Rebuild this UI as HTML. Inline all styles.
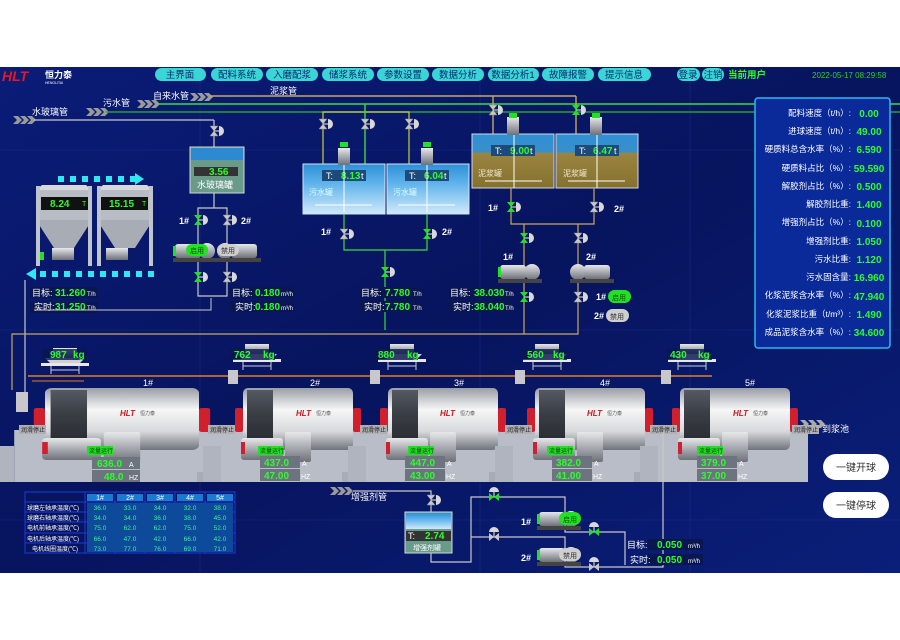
<!DOCTYPE html>
<html><head><meta charset="utf-8"><style>
html,body{margin:0;padding:0;background:#fff;width:900px;height:640px;overflow:hidden}
svg{display:block}
text{font-family:"Liberation Sans","Noto Sans CJK SC",sans-serif}
.w{fill:#fff;font-size:9px}
.g{fill:#2aff2a;font-size:10px;font-weight:bold}
.nv{fill:#0b2a6e;font-size:9.5px;text-anchor:middle}
.pl{fill:#fff;font-size:8.5px;text-anchor:end}
.pv{fill:#2aff2a;font-size:10px;font-weight:bold;text-anchor:middle}
.s{fill:#fff;font-size:6px}
.tb{fill:#fff;font-size:6px}
.tv{fill:#3cf0a0;font-size:6.5px;text-anchor:middle}
</style></head><body>
<svg width="900" height="640" viewBox="0 0 900 640" xmlns="http://www.w3.org/2000/svg">
<defs>
<linearGradient id="bg" x1="0" y1="0" x2="1" y2="1">
<stop offset="0" stop-color="#0a1c78"/><stop offset="0.5" stop-color="#07145e"/><stop offset="1" stop-color="#0a1f7a"/></linearGradient>
<linearGradient id="cyl" x1="0" y1="0" x2="0" y2="1">
<stop offset="0" stop-color="#9a9ea6"/><stop offset="0.35" stop-color="#f6f6f6"/><stop offset="0.7" stop-color="#d8d9dc"/><stop offset="1" stop-color="#6f737b"/></linearGradient>
<linearGradient id="band" x1="0" y1="0" x2="0" y2="1">
<stop offset="0" stop-color="#555a62"/><stop offset="0.4" stop-color="#3a3e45"/><stop offset="1" stop-color="#25282d"/></linearGradient>
<linearGradient id="met" x1="0" y1="0" x2="0" y2="1">
<stop offset="0" stop-color="#e8e8ea"/><stop offset="0.5" stop-color="#a9acb2"/><stop offset="1" stop-color="#6e7178"/></linearGradient>
<linearGradient id="water" x1="0" y1="0" x2="0" y2="1">
<stop offset="0" stop-color="#2e8fd6"/><stop offset="0.35" stop-color="#5ab0ea"/><stop offset="1" stop-color="#cfe9fb"/></linearGradient>
<linearGradient id="mud" x1="0" y1="0" x2="0" y2="1">
<stop offset="0" stop-color="#2f8fd6"/><stop offset="0.33" stop-color="#3a8fc8"/><stop offset="0.36" stop-color="#9a8440"/><stop offset="1" stop-color="#85712e"/></linearGradient>
<g id="valve">
<path d="M-4,-5 L4,-5 L-4,5 L4,5 Z" fill="#c8c8c8" stroke="#888" stroke-width="0.5"/>
<line x1="0" y1="0" x2="5" y2="0" stroke="#ccc" stroke-width="1.2"/>
<path d="M5,-5 A5,5 0 0 1 5,5 Z" fill="#d8d8d8"/>
</g>
<g id="valveg">
<path d="M-4,-5 L4,-5 L-4,5 L4,5 Z" fill="#22e022"/>
<line x1="0" y1="0" x2="5" y2="0" stroke="#ccc" stroke-width="1.2"/>
<path d="M5,-5 A5,5 0 0 1 5,5 Z" fill="#d8d8d8"/>
</g>
<g id="valveh">
<path d="M-5,-4 L-5,4 L5,-4 L5,4 Z" fill="#c8c8c8"/>
<line x1="0" y1="0" x2="0" y2="-5" stroke="#ccc" stroke-width="1.2"/>
<path d="M-5,-5 A5,5 0 0 1 5,-5 Z" fill="#d8d8d8"/>
</g>
<g id="valvehg">
<path d="M-5,-4 L-5,4 L5,-4 L5,4 Z" fill="#22e022"/>
<line x1="0" y1="0" x2="0" y2="-5" stroke="#ccc" stroke-width="1.2"/>
<path d="M-5,-5 A5,5 0 0 1 5,-5 Z" fill="#d8d8d8"/>
</g>
<g id="pump">
<rect x="0" y="2" width="26" height="14" rx="3" fill="url(#met)"/>
<rect x="-2" y="4" width="3" height="10" fill="#22e022"/>
<circle cx="32" cy="9" r="8" fill="url(#met)"/>
<rect x="-2" y="16" width="44" height="4" fill="#444"/>
</g>
<g id="pumpr">
<circle cx="8" cy="9" r="8" fill="url(#met)"/>
<rect x="14" y="2" width="26" height="14" rx="3" fill="url(#met)"/>
<rect x="0" y="16" width="44" height="4" fill="#444"/>
</g>
<g id="chev">
<path d="M0,0 h5 l4,4 l-4,4 h-5 l4,-4 Z M7,0 h5 l4,4 l-4,4 h-5 l4,-4 Z M14,0 h5 l4,4 l-4,4 h-5 l4,-4 Z" fill="#9a9a9a"/>
</g>
<g id="hopper">
<rect x="8" y="0" width="24" height="10" fill="url(#met)"/>
<path d="M0,10 h40 l-6,6 h-28 Z" fill="#d0d0d4"/>
<rect x="-4" y="15" width="48" height="3" fill="#e8e8ea"/>
<path d="M6,18 v8 M34,18 v8 M6,22 h28" stroke="#ccc" stroke-width="1"/>
</g>
<g id="mill">
<path d="M-22,42 h150 v52 h-150 Z" fill="#b9bdc8"/>
<path d="M-40,94 v-36 h18 v36 Z" fill="#b0b4bf"/>
<path d="M-40,94 v-10 h-6 v10 Z" fill="#a8acb7"/>
<rect x="0" y="0" width="110" height="62" rx="5" fill="url(#cyl)"/>
<rect x="4" y="2" width="26" height="58" fill="url(#band)"/>
<rect x="-8" y="20" width="8" height="24" rx="2" fill="#d21f2e"/>
<rect x="110" y="20" width="8" height="24" rx="2" fill="#d21f2e"/>
<rect x="-2" y="50" width="42" height="22" rx="3" fill="url(#met)"/>
<rect x="-2" y="54" width="4" height="12" fill="#d21f2e"/>
<rect x="42" y="44" width="26" height="30" rx="2" fill="url(#met)"/>
</g>
</defs>

<rect x="0" y="67" width="900" height="506" fill="url(#bg)"/>
<g stroke="#1c3a9a" stroke-width="0.6" opacity="0.6">
<line x1="0" y1="150" x2="900" y2="150"/><line x1="0" y1="330" x2="900" y2="330"/><line x1="0" y1="520" x2="900" y2="520"/>
<line x1="200" y1="67" x2="200" y2="573"/><line x1="480" y1="67" x2="480" y2="573"/><line x1="690" y1="67" x2="690" y2="573"/>
</g>

<text x="2" y="81" fill="#e8181e" font-size="14" font-weight="bold" font-style="italic">HLT</text>
<text x="45" y="78" fill="#fff" font-size="9" font-weight="bold">恒力泰</text>
<text x="45" y="84" fill="#fff" font-size="3.5">HENGLITAI</text>
<g fill="#3ad6d6">
<rect x="155" y="68" width="51" height="13" rx="6.5"/><rect x="211" y="68" width="52" height="13" rx="6.5"/>
<rect x="266" y="68" width="52" height="13" rx="6.5"/><rect x="322" y="68" width="52" height="13" rx="6.5"/>
<rect x="377" y="68" width="52" height="13" rx="6.5"/><rect x="432" y="68" width="52" height="13" rx="6.5"/>
<rect x="488" y="68" width="51" height="13" rx="6.5"/><rect x="542" y="68" width="52" height="13" rx="6.5"/>
<rect x="598" y="68" width="53" height="13" rx="6.5"/><rect x="677" y="68" width="23" height="13" rx="6.5"/>
<rect x="702" y="68" width="22" height="13" rx="6.5"/>
</g>
<text class="nv" x="180" y="78">主界面</text><text class="nv" x="237" y="78">配料系统</text>
<text class="nv" x="292" y="78">入磨配浆</text><text class="nv" x="348" y="78">储浆系统</text>
<text class="nv" x="403" y="78">参数设置</text><text class="nv" x="458" y="78">数据分析</text>
<text class="nv" x="513" y="78">数据分析1</text><text class="nv" x="568" y="78">故障报警</text>
<text class="nv" x="624" y="78">提示信息</text><text class="nv" x="688" y="78">登录</text><text class="nv" x="713" y="78">注销</text>
<text x="728" y="78" fill="#2aff2a" font-size="9.5" font-weight="bold">当前用户</text>
<text x="812" y="78" fill="#2ad02a" font-size="8">2022-05-17  08:29:58</text>

<use href="#chev" x="13" y="116"/><text class="w" x="32" y="115">水玻璃管</text>
<use href="#chev" x="86" y="108"/><text class="w" x="103" y="106">污水管</text>
<use href="#chev" x="137" y="100"/><text class="w" x="153" y="99">自来水管</text>
<use href="#chev" x="190" y="93"/><text class="w" x="270" y="94">泥浆管</text>
<line x1="34" y1="120" x2="214" y2="120" stroke="#c8c8c8" stroke-width="1.2"/>
<line x1="214" y1="120" x2="214" y2="148" stroke="#c8c8c8" stroke-width="1.2"/>
<line x1="106" y1="112" x2="900" y2="112" stroke="#2aa02a" stroke-width="1.4"/>
<line x1="157" y1="104" x2="900" y2="104" stroke="#3cdc3c" stroke-width="1.4"/>
<line x1="210" y1="96" x2="576" y2="96" stroke="#c8a860" stroke-width="1.4"/>
<polyline points="323,164 323,112 409,112 409,164" fill="none" stroke="#c8d040" stroke-width="1.2"/>
<line x1="365" y1="104" x2="365" y2="170" stroke="#3cdc3c" stroke-width="1.4"/>
<line x1="493" y1="96" x2="493" y2="134" stroke="#c8a860" stroke-width="1.4"/>
<line x1="576" y1="96" x2="576" y2="134" stroke="#c8a860" stroke-width="1.4"/>
<use href="#valve" x="214" y="131"/><use href="#valve" x="323" y="124"/><use href="#valve" x="365" y="124"/>
<use href="#valve" x="409" y="124"/><use href="#valve" x="493" y="110"/><use href="#valveg" x="576" y="110"/>

<g>
<rect x="36" y="190" width="56" height="30" fill="#b8bcc4"/><rect x="97" y="190" width="56" height="30" fill="#b8bcc4"/>
<path d="M36,190 l6,-5 h44 l6,5 Z M97,190 l6,-5 h44 l6,5 Z" fill="#d8d8dc"/>
<path d="M36,220 h56 l-18,28 h-20 Z M97,220 h56 l-18,28 h-20 Z" fill="#a8acb4"/>
<rect x="36" y="186" width="4" height="80" fill="#c0c4cc"/><rect x="88" y="186" width="4" height="80" fill="#c0c4cc"/>
<rect x="97" y="186" width="4" height="80" fill="#c0c4cc"/><rect x="149" y="186" width="4" height="80" fill="#c0c4cc"/>
<rect x="52" y="248" width="22" height="12" fill="url(#met)"/><rect x="106" y="248" width="22" height="12" fill="url(#met)"/>
<rect x="40" y="252" width="4" height="8" fill="#22e022"/>
<rect x="41" y="197" width="47" height="13" fill="#111"/><rect x="101" y="197" width="47" height="13" fill="#111"/>
<text x="50" y="207" class="g">8.24</text><text x="82" y="206" fill="#2aff2a" font-size="7">T</text>
<text x="109" y="207" class="g">15.15</text><text x="142" y="206" fill="#2aff2a" font-size="7">T</text>
</g>
<g fill="#2ee8f0">
<rect x="58" y="176" width="6" height="6"/><rect x="70" y="176" width="6" height="6"/><rect x="82" y="176" width="6" height="6"/><rect x="94" y="176" width="6" height="6"/><rect x="106" y="176" width="6" height="6"/><rect x="118" y="176" width="6" height="6"/><rect x="130" y="176" width="6" height="6"/>
<path d="M135,173 l9,6 l-9,6 Z"/>
<path d="M26,274 l10,-6 v12 Z"/>
<rect x="40" y="271" width="6" height="6"/><rect x="52" y="271" width="6" height="6"/><rect x="64" y="271" width="6" height="6"/><rect x="76" y="271" width="6" height="6"/><rect x="88" y="271" width="6" height="6"/><rect x="100" y="271" width="6" height="6"/><rect x="112" y="271" width="6" height="6"/><rect x="124" y="271" width="6" height="6"/><rect x="136" y="271" width="6" height="6"/><rect x="148" y="271" width="6" height="6"/>
</g>
<rect x="30" y="287" width="68" height="11" fill="#0a1650"/><rect x="30" y="302" width="68" height="11" fill="#0a1650"/>
<text class="w" x="32" y="296">目标:</text><text class="g" x="55" y="296">31.260</text><text x="87" y="296" fill="#fff" font-size="6">T/h</text>
<text class="w" x="34" y="310">实时:</text><text class="g" x="55" y="310">31.250</text><text x="87" y="310" fill="#fff" font-size="6">T/h</text>
<polyline points="25,280 25,395" fill="none" stroke="#c8c8c8" stroke-width="1.2"/>
<polyline points="34,310 211,310 211,298" fill="none" stroke="#c8c8c8" stroke-width="1"/>

<rect x="190" y="147" width="54" height="46" fill="#6a9a8a" stroke="#cfd8d8" stroke-width="1"/>
<rect x="191" y="148" width="52" height="12" fill="#2e8ad0"/>
<rect x="194" y="167" width="44" height="9" fill="#333"/>
<text class="g" x="209" y="175" font-size="8">3.56</text>
<text class="w" x="197" y="188">水玻璃罐</text>
<polyline points="214,193 214,208 198,208 198,296 227,296 227,208 214,208" fill="none" stroke="#c8c8c8" stroke-width="1.2"/>
<use href="#valveg" x="198" y="220"/><use href="#valve" x="227" y="220"/>
<use href="#valveg" x="198" y="277"/><use href="#valve" x="227" y="277"/>
<text class="w" x="179" y="224" font-weight="bold">1#</text><text class="w" x="241" y="224" font-weight="bold">2#</text>
<use href="#pump" x="175" y="242"/><use href="#pumpr" x="217" y="242"/>
<rect x="186" y="244" width="22" height="12" rx="6" fill="#22e022"/><text x="190" y="253" fill="#0a4a0a" font-size="7">启用</text>
<rect x="217" y="244" width="22" height="12" rx="6" fill="#cfcfcf"/><text x="221" y="253" fill="#333" font-size="7">禁用</text>
<rect x="230" y="287" width="64" height="11" fill="#0a1650"/><rect x="230" y="301" width="64" height="11" fill="#0a1650"/>
<text class="w" x="232" y="296">目标:</text><text class="g" x="255" y="296">0.180</text><text x="281" y="296" fill="#fff" font-size="6">m³/h</text>
<text class="w" x="235" y="310">实时:</text><text class="g" x="255" y="310">0.180</text><text x="281" y="310" fill="#fff" font-size="6">m³/h</text>

<rect x="303" y="164" width="82" height="50" fill="url(#water)" stroke="#d0e4f4"/>
<rect x="387" y="164" width="82" height="50" fill="url(#water)" stroke="#d0e4f4"/>
<rect x="338" y="148" width="12" height="17" fill="url(#met)"/><rect x="340" y="142" width="8" height="5" fill="#22e022"/>
<rect x="421" y="148" width="12" height="17" fill="url(#met)"/><rect x="423" y="142" width="8" height="5" fill="#22e022"/>
<rect x="322" y="170" width="44" height="11" fill="#1e4a7a"/><rect x="405" y="170" width="44" height="11" fill="#1e4a7a"/>
<text class="w" x="326" y="179">T:</text><text class="g" x="341" y="179" font-size="8.5">8.13</text><text class="w" x="361" y="179">t</text>
<text class="w" x="409" y="179">T:</text><text class="g" x="424" y="179" font-size="8.5">6.04</text><text class="w" x="444" y="179">t</text>
<text x="309" y="195" fill="#dff" font-size="8">污水罐</text><text x="393" y="195" fill="#dff" font-size="8">污水罐</text>
<line x1="315" y1="205" x2="372" y2="205" stroke="#fff"/><line x1="398" y1="205" x2="455" y2="205" stroke="#fff"/>
<line x1="344" y1="165" x2="344" y2="212" stroke="#fff"/><line x1="427" y1="165" x2="427" y2="212" stroke="#fff"/>
<polyline points="344,214 344,250 427,250 427,214" fill="none" stroke="#3cdc3c" stroke-width="1.2"/>
<line x1="385" y1="250" x2="385" y2="330" stroke="#3cdc3c" stroke-width="1.2"/>
<use href="#valve" x="344" y="234"/><use href="#valveg" x="427" y="234"/><use href="#valveg" x="385" y="272"/>
<text class="w" x="321" y="235" font-weight="bold">1#</text><text class="w" x="442" y="235" font-weight="bold">2#</text>
<rect x="360" y="287" width="62" height="11" fill="#0a1650"/><rect x="360" y="301" width="62" height="11" fill="#0a1650"/>
<text class="w" x="361" y="296">目标:</text><text class="g" x="385" y="296">7.780</text><text x="413" y="296" fill="#fff" font-size="6">T/h</text>
<text class="w" x="364" y="310">实时:</text><text class="g" x="385" y="310">7.780</text><text x="413" y="310" fill="#fff" font-size="6">T/h</text>

<rect x="472" y="134" width="82" height="54" fill="url(#mud)" stroke="#d0d8e0"/>
<rect x="556" y="134" width="82" height="54" fill="url(#mud)" stroke="#d0d8e0"/>
<rect x="507" y="117" width="12" height="18" fill="url(#met)"/><rect x="509" y="113" width="8" height="5" fill="#22e022"/>
<rect x="590" y="117" width="12" height="18" fill="url(#met)"/><rect x="592" y="113" width="8" height="5" fill="#22e022"/>
<rect x="491" y="145" width="44" height="11" fill="#1e4a7a"/><rect x="575" y="145" width="44" height="11" fill="#1e4a7a"/>
<text class="w" x="495" y="154">T:</text><text class="g" x="510" y="154" font-size="8.5">9.00</text><text class="w" x="530" y="154">t</text>
<text class="w" x="579" y="154">T:</text><text class="g" x="593" y="154" font-size="8.5">6.47</text><text class="w" x="614" y="154">t</text>
<text x="478" y="176" fill="#f0e8d0" font-size="8">泥浆罐</text><text x="563" y="176" fill="#f0e8d0" font-size="8">泥浆罐</text>
<line x1="485" y1="181" x2="542" y2="181" stroke="#fff"/><line x1="568" y1="181" x2="625" y2="181" stroke="#fff"/>
<line x1="514" y1="135" x2="514" y2="188" stroke="#fff"/><line x1="597" y1="135" x2="597" y2="188" stroke="#fff"/>
<polyline points="511,188 511,224 594,224 594,188" fill="none" stroke="#c8a860" stroke-width="1.2"/>
<polyline points="524,224 524,334 12,334 12,390" fill="none" stroke="#c8a860" stroke-width="1.2"/>
<polyline points="578,224 578,334 524,334" fill="none" stroke="#c8a860" stroke-width="1.2"/>
<use href="#valveg" x="511" y="207"/><use href="#valve" x="594" y="207"/>
<text class="w" x="488" y="211" font-weight="bold">1#</text><text class="w" x="614" y="212" font-weight="bold">2#</text>
<use href="#valveg" x="524" y="238"/><use href="#valve" x="578" y="238"/>
<use href="#valveg" x="524" y="297"/><use href="#valve" x="578" y="297"/>
<text class="w" x="503" y="260" font-weight="bold">1#</text><text class="w" x="586" y="260" font-weight="bold">2#</text>
<use href="#pump" x="500" y="263"/><use href="#pumpr" x="570" y="263"/>
<rect x="450" y="287" width="62" height="11" fill="#0a1650"/><rect x="450" y="301" width="62" height="11" fill="#0a1650"/>
<text class="w" x="450" y="296">目标:</text><text class="g" x="474" y="296">38.030</text><text x="505" y="296" fill="#fff" font-size="6">T/h</text>
<text class="w" x="453" y="310">实时:</text><text class="g" x="474" y="310">38.040</text><text x="505" y="310" fill="#fff" font-size="6">T/h</text>
<text class="w" x="596" y="300" font-weight="bold">1#</text>
<rect x="608" y="290" width="23" height="13" rx="6.5" fill="#22e022"/><text x="612" y="300" fill="#0a4a0a" font-size="7">启用</text>
<text class="w" x="594" y="319" font-weight="bold">2#</text>
<rect x="606" y="309" width="23" height="13" rx="6.5" fill="#cfcfcf"/><text x="610" y="319" fill="#333" font-size="7">禁用</text>

<rect x="755" y="98" width="135" height="250" rx="3" fill="#0a2a9a" stroke="#2ab8f0" stroke-width="1.5"/>
<text class="pl" x="851" y="116">配料速度（t/h）:</text><text class="pv" x="869" y="117">0.00</text>
<text class="pl" x="851" y="134">进球速度（t/h）:</text><text class="pv" x="869" y="135">49.00</text>
<text class="pl" x="851" y="152">硬质料总含水率（%）:</text><text class="pv" x="869" y="153">6.590</text>
<text class="pl" x="851" y="171">硬质料占比（%）:</text><text class="pv" x="869" y="172">59.590</text>
<text class="pl" x="851" y="189">解胶剂占比（%）:</text><text class="pv" x="869" y="190">0.500</text>
<text class="pl" x="851" y="207">解胶剂比重:</text><text class="pv" x="869" y="208">1.400</text>
<text class="pl" x="851" y="225">增强剂占比（%）:</text><text class="pv" x="869" y="227">0.100</text>
<text class="pl" x="851" y="244">增强剂比重:</text><text class="pv" x="869" y="245">1.050</text>
<text class="pl" x="851" y="262">污水比重:</text><text class="pv" x="869" y="263">1.120</text>
<text class="pl" x="851" y="280">污水固含量:</text><text class="pv" x="869" y="281">16.960</text>
<text class="pl" x="851" y="298">化浆泥浆含水率（%）:</text><text class="pv" x="869" y="300">47.940</text>
<text class="pl" x="851" y="317">化浆泥浆比重（t/m³）:</text><text class="pv" x="869" y="318">1.490</text>
<text class="pl" x="851" y="335">成品泥浆含水率（%）:</text><text class="pv" x="869" y="336">34.600</text>

<use href="#hopper" x="45" y="348"/><use href="#hopper" x="237" y="344"/><use href="#hopper" x="382" y="344"/><use href="#hopper" x="527" y="344"/><use href="#hopper" x="672" y="344"/>
<rect x="42" y="349" width="45" height="11" fill="#0a1650" opacity="0.8"/><text class="g" x="50" y="358" font-size="8">987</text><text class="g" x="73" y="358" font-size="8">kg</text>
<rect x="230" y="349" width="45" height="11" fill="#0a1650" opacity="0.8"/><text class="g" x="234" y="358" font-size="8">762</text><text class="g" x="263" y="358" font-size="8">kg</text>
<rect x="373" y="349" width="45" height="11" fill="#0a1650" opacity="0.8"/><text class="g" x="378" y="358" font-size="8">880</text><text class="g" x="407" y="358" font-size="8">kg</text>
<rect x="522" y="349" width="45" height="11" fill="#0a1650" opacity="0.8"/><text class="g" x="527" y="358" font-size="8">560</text><text class="g" x="553" y="358" font-size="8">kg</text>
<rect x="667" y="349" width="45" height="11" fill="#0a1650" opacity="0.8"/><text class="g" x="670" y="358" font-size="8">430</text><text class="g" x="698" y="358" font-size="8">kg</text>
<line x1="28" y1="376" x2="712" y2="376" stroke="#e08020" stroke-width="1.5"/>
<line x1="32" y1="381" x2="84" y2="381" stroke="#e08020" stroke-width="1"/>

<use href="#mill" x="45" y="388" transform="translate(45 0) scale(1.4 1) translate(-45 0)"/>
<use href="#mill" x="243" y="388"/><use href="#mill" x="388" y="388"/><use href="#mill" x="535" y="388"/><use href="#mill" x="680" y="388"/>
<g fill="#c8c8cc">
<rect x="16" y="392" width="12" height="20"/><rect x="228" y="370" width="10" height="14"/><rect x="370" y="370" width="10" height="14"/><rect x="515" y="370" width="10" height="14"/><rect x="661" y="370" width="10" height="14"/>
</g>
<path d="M800,420 l4,4 l-4,4 h5 l4,-4 l-4,-4 Z M808,420 l4,4 l-4,4 h5 l4,-4 l-4,-4 Z M816,420 l4,4 l-4,4 h5 l4,-4 l-4,-4 Z" fill="#aaa"/>
<text class="w" x="143" y="386">1#</text><text class="w" x="310" y="386">2#</text><text class="w" x="454" y="386">3#</text><text class="w" x="600" y="386">4#</text><text class="w" x="745" y="386">5#</text>
<g fill="#d2141e" font-size="8" font-weight="bold" font-style="italic">
<text x="120" y="416">HLT</text><text x="296" y="416">HLT</text><text x="440" y="416">HLT</text><text x="587" y="416">HLT</text><text x="733" y="416">HLT</text></g>
<g fill="#555" font-size="5"><text x="140" y="415">恒力泰</text><text x="316" y="415">恒力泰</text><text x="460" y="415">恒力泰</text><text x="607" y="415">恒力泰</text><text x="753" y="415">恒力泰</text></g>
<g fill="#b0b0b4"><rect x="19" y="425" width="27" height="9"/><rect x="208" y="425" width="27" height="9"/><rect x="360" y="425" width="27" height="9"/><rect x="505" y="425" width="27" height="9"/><rect x="650" y="425" width="27" height="9"/><rect x="792" y="425" width="27" height="9"/></g>
<g><text x="21" y="432" fill="#222" font-size="6">润滑停止</text><text x="210" y="432" fill="#222" font-size="6">润滑停止</text><text x="362" y="432" fill="#222" font-size="6">润滑停止</text><text x="507" y="432" fill="#222" font-size="6">润滑停止</text><text x="652" y="432" fill="#222" font-size="6">润滑停止</text><text x="794" y="432" fill="#222" font-size="6">润滑停止</text></g>
<text class="w" x="822" y="432">到浆池</text>
<g fill="#22e022"><rect x="87" y="446" width="26" height="9"/><rect x="258" y="446" width="26" height="9"/><rect x="408" y="446" width="26" height="9"/><rect x="547" y="446" width="26" height="9"/><rect x="697" y="446" width="26" height="9"/></g>
<g fill="#0a3a0a" font-size="6"><text x="89" y="453">流量运行</text><text x="260" y="453">流量运行</text><text x="410" y="453">流量运行</text><text x="549" y="453">流量运行</text><text x="699" y="453">流量运行</text></g>
<g fill="#6e7380">
<rect x="92" y="457" width="48" height="12"/><rect x="92" y="470" width="48" height="12"/>
<rect x="260" y="456" width="40" height="12"/><rect x="260" y="469" width="40" height="12"/>
<rect x="405" y="456" width="40" height="12"/><rect x="405" y="469" width="40" height="12"/>
<rect x="552" y="456" width="40" height="12"/><rect x="552" y="469" width="40" height="12"/>
<rect x="697" y="456" width="40" height="12"/><rect x="697" y="469" width="40" height="12"/></g>
<g class="g" font-size="10"><text x="97" y="467">636.0</text><text x="104" y="480">48.0</text>
<text x="264" y="466">437.0</text><text x="264" y="479">47.00</text>
<text x="410" y="466">447.0</text><text x="410" y="479">43.00</text>
<text x="556" y="466">382.0</text><text x="556" y="479">41.00</text>
<text x="701" y="466">379.0</text><text x="701" y="479">37.00</text></g>
<g fill="#fff" font-size="7"><text x="129" y="467">A</text><text x="129" y="480">HZ</text><text x="302" y="466">A</text><text x="301" y="479">HZ</text><text x="447" y="466">A</text><text x="446" y="479">HZ</text><text x="594" y="466">A</text><text x="593" y="479">HZ</text><text x="739" y="466">A</text><text x="738" y="479">HZ</text></g>

<g stroke="#1a3ae0" stroke-width="1" fill="none">
<rect x="25" y="492" width="210" height="61"/>
<line x1="85" y1="492" x2="85" y2="553"/><line x1="115" y1="492" x2="115" y2="553"/><line x1="145" y1="492" x2="145" y2="553"/><line x1="175" y1="492" x2="175" y2="553"/><line x1="205" y1="492" x2="205" y2="553"/>
<line x1="25" y1="502" x2="235" y2="502"/><line x1="25" y1="512" x2="235" y2="512"/><line x1="25" y1="522" x2="235" y2="522"/><line x1="25" y1="533" x2="235" y2="533"/><line x1="25" y1="543" x2="235" y2="543"/></g>
<g fill="#1a7ad0"><rect x="87" y="494" width="26" height="7"/><rect x="117" y="494" width="26" height="7"/><rect x="147" y="494" width="26" height="7"/><rect x="177" y="494" width="26" height="7"/><rect x="207" y="494" width="26" height="7"/></g>
<g fill="#0d4a9a"><rect x="87" y="503" width="146" height="49"/></g>
<g fill="#fff" font-size="7" text-anchor="middle"><text x="100" y="500">1#</text><text x="130" y="500">2#</text><text x="160" y="500">3#</text><text x="190" y="500">4#</text><text x="220" y="500">5#</text></g>
<g class="tb"><text x="27" y="510">球磨左轴承温度(℃)</text><text x="27" y="520">球磨右轴承温度(℃)</text><text x="27" y="530">电机前轴承温度(℃)</text><text x="27" y="541">电机后轴承温度(℃)</text><text x="32" y="551">电机线圈温度(℃)</text></g>
<g class="tv">
<text x="100" y="510">36.0</text><text x="130" y="510">33.0</text><text x="160" y="510">34.0</text><text x="190" y="510">32.0</text><text x="220" y="510">38.0</text>
<text x="100" y="520">34.0</text><text x="130" y="520">34.0</text><text x="160" y="520">36.0</text><text x="190" y="520">38.0</text><text x="220" y="520">45.0</text>
<text x="100" y="530">75.0</text><text x="130" y="530">62.0</text><text x="160" y="530">62.0</text><text x="190" y="530">75.0</text><text x="220" y="530">52.0</text>
<text x="100" y="541">66.0</text><text x="130" y="541">47.0</text><text x="160" y="541">42.0</text><text x="190" y="541">66.0</text><text x="220" y="541">42.0</text>
<text x="100" y="551">73.0</text><text x="130" y="551">77.0</text><text x="160" y="551">76.0</text><text x="190" y="551">69.0</text><text x="220" y="551">71.0</text></g>

<use href="#chev" x="330" y="487"/><text class="w" x="351" y="500">增强剂管</text>
<polyline points="353,491 431,491 431,512" fill="none" stroke="#c8c8c8" stroke-width="1.2"/>
<use href="#valve" x="431" y="500"/>
<rect x="405" y="512" width="47" height="41" fill="#6a9a8a" stroke="#cfd8d8"/>
<rect x="406" y="513" width="45" height="16" fill="url(#water)"/>
<rect x="406" y="531" width="45" height="10" fill="#333"/>
<text class="w" x="408" y="539">T:</text><text class="g" x="425" y="539" font-size="8">2.74</text>
<text x="413" y="550" fill="#fff" font-size="7">增强剂罐</text>
<polyline points="431,553 431,562 471,562 471,497 565,497 565,512" fill="none" stroke="#c8c8c8" stroke-width="1.2"/>
<polyline points="471,537 565,537 565,567 625,567 663,567 663,432" fill="none" stroke="#c8c8c8" stroke-width="1.2"/>
<polyline points="565,520 565,532 625,532 625,565" fill="none" stroke="#c8c8c8" stroke-width="1.2"/>
<use href="#valvehg" x="494" y="497"/><use href="#valveh" x="494" y="537"/><use href="#valvehg" x="594" y="532"/><use href="#valveh" x="594" y="567"/>
<text class="w" x="521" y="525" font-weight="bold">1#</text><text class="w" x="521" y="561" font-weight="bold">2#</text>
<use href="#pump" x="539" y="510"/><use href="#pump" x="539" y="546"/>
<rect x="559" y="512" width="22" height="13" rx="6.5" fill="#22e022"/><text x="563" y="522" fill="#0a4a0a" font-size="7">启用</text>
<rect x="559" y="548" width="22" height="13" rx="6.5" fill="#cfcfcf"/><text x="563" y="558" fill="#333" font-size="7">禁用</text>
<rect x="648" y="539" width="55" height="11" fill="#0a1650"/><rect x="648" y="554" width="55" height="11" fill="#0a1650"/>
<text class="w" x="627" y="548">目标:</text><text class="g" x="657" y="548">0.050</text><text x="688" y="548" fill="#fff" font-size="6">m³/h</text>
<text class="w" x="630" y="563">实时:</text><text class="g" x="657" y="563">0.050</text><text x="688" y="563" fill="#fff" font-size="6">m³/h</text>

<rect x="823" y="454" width="66" height="26" rx="13" fill="#fff"/><text x="856" y="471" fill="#333" font-size="10" text-anchor="middle">一键开球</text>
<rect x="823" y="492" width="66" height="26" rx="13" fill="#fff"/><text x="856" y="509" fill="#333" font-size="10" text-anchor="middle">一键停球</text>
</svg>
</body></html>
